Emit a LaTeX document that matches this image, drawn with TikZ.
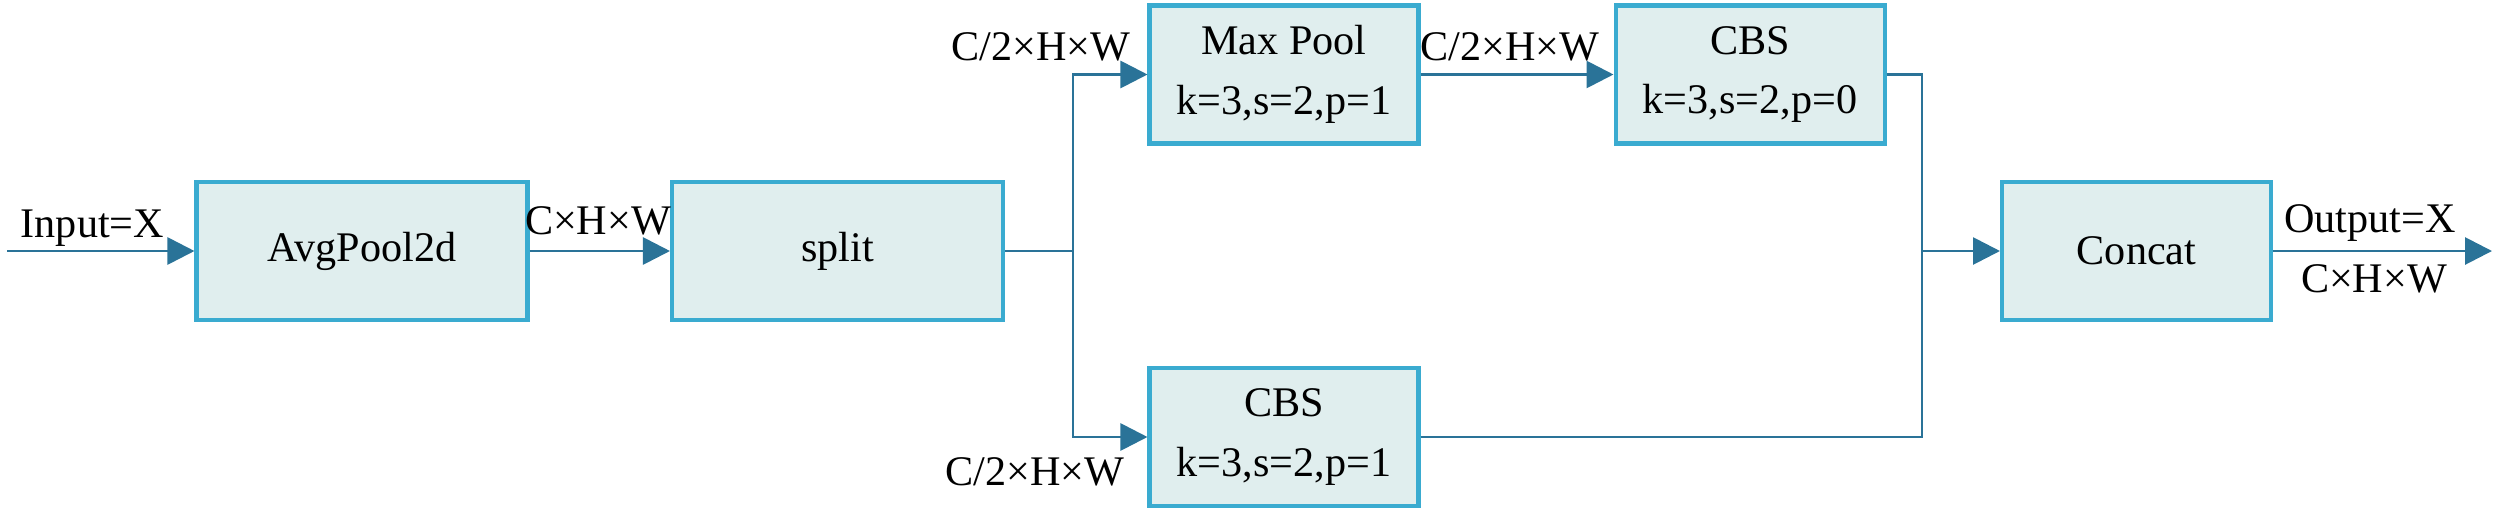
\documentclass[tikz,border=0pt]{standalone}
\usepackage{fontspec}
\setmainfont{Liberation Serif}
\usetikzlibrary{arrows.meta}
\definecolor{boxline}{HTML}{3AABD0}
\definecolor{boxfill}{HTML}{E0EEEE}
\definecolor{flowcol}{HTML}{2A7398}
\tikzset{
  blk/.style={draw=boxline, fill=boxfill, line width=1.15pt, align=center,
    minimum height=1.38cm, font=\fontsize{12}{17}\selectfont},
  wideblk/.style={blk, minimum width=3.31cm},
  smallblk/.style={blk, minimum width=2.69cm},
  flow/.style={draw=flowcol, line width=0.8pt},
  flowarr/.style={flow, -{Triangle[length=0.27cm, width=0.27cm]}},
  lbl/.style={anchor=base, inner sep=0pt, font=\fontsize{12}{14}\selectfont}
}
\begin{document}
\begin{tikzpicture}
\useasboundingbox (0,0) rectangle (25,5.13);
% blocks
\node [wideblk] (avg) at (3.62,2.62) {AvgPool2d};
\node [wideblk] (split) at (8.375,2.62) {split};
\node [smallblk] (maxp) at (12.84,4.385) {Max Pool\\k=3,s=2,p=1};
\node [smallblk] (cbsa) at (17.50,4.385) {CBS\\k=3,s=2,p=0};
\node [smallblk] (cbsb) at (12.84,0.76) {CBS\\k=3,s=2,p=1};
\node [smallblk] (concat) at (21.365,2.62) {Concat};
% junctions and free ends
\coordinate (in) at (0.07,2.62);
\coordinate (fork) at (10.73,2.62);
\coordinate (join) at (19.22,2.62);
\coordinate (out) at (24.92,2.62);
% connectors
\draw [flowarr] (in)--(avg);
\draw [flowarr] (avg)--(split);
\draw [flow] (split.east)--(fork);
\draw [flowarr] (fork)|-(maxp);
\draw [flowarr] (fork)|-(cbsb);
\draw [flowarr] (maxp)--(cbsa);
\draw [flow] (cbsa.east)-|(join);
\draw [flow] (cbsb.east)-|(join);
\draw [flowarr] (join)--(concat);
\draw [flowarr] (concat)--(out);
% labels
\node [lbl] (lin) at (0.925,2.76) {Input=X};
\node [lbl] (lavg) at (5.98,2.79) {C×H×W};
\node [lbl] (lup) at (10.41,4.53) {C/2×H×W};
\node [lbl] (lmid) at (15.10,4.53) {C/2×H×W};
\node [lbl] (ldown) at (10.35,0.28) {C/2×H×W};
\node [lbl] (lout) at (23.70,2.81) {Output=X};
\node [lbl] (lsize) at (23.74,2.21) {C×H×W};
\end{tikzpicture}
\end{document}
